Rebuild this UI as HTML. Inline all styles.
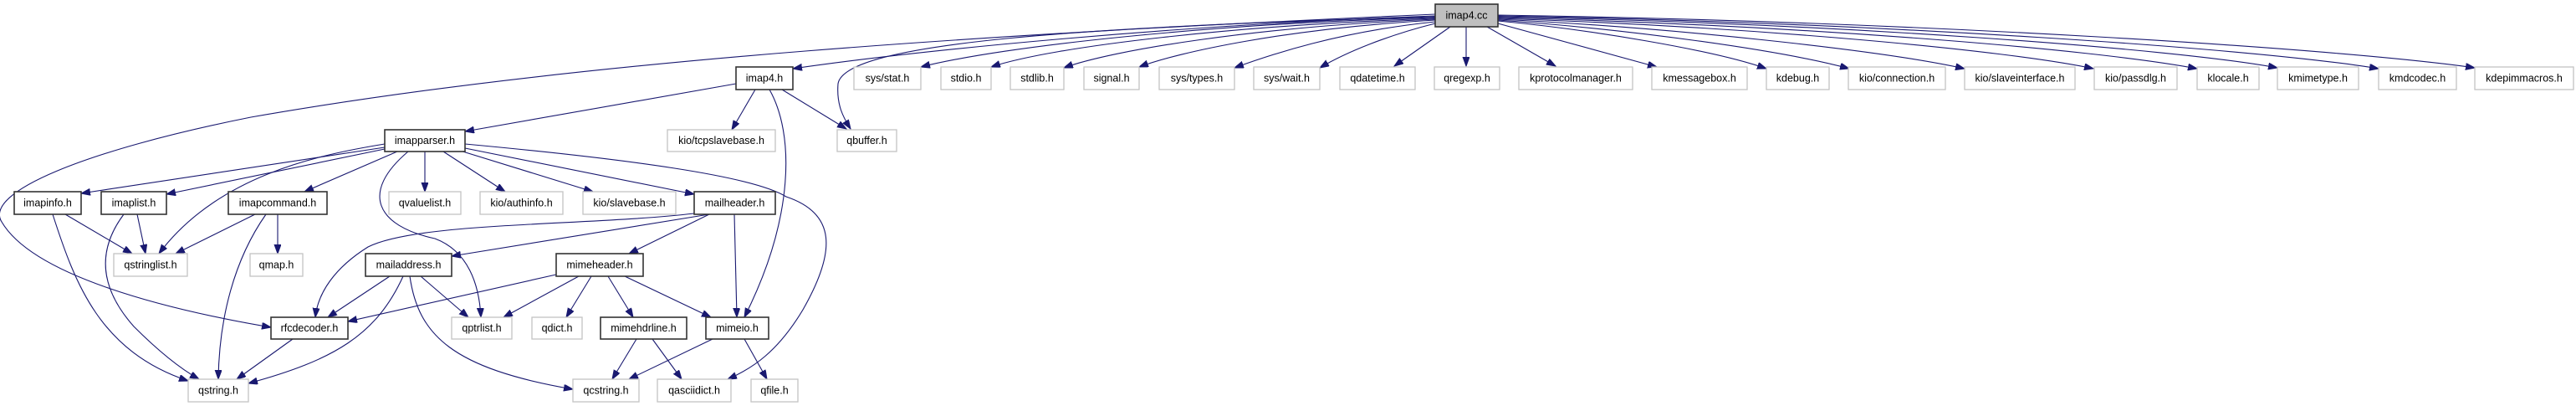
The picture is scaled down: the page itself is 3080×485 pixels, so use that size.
<!DOCTYPE html>
<html><head><meta charset="utf-8"><style>
html,body{margin:0;padding:0;background:#fff;}
svg{display:block;}
text{font-family:"Liberation Sans",Arial,sans-serif;font-size:12.5px;fill:#000;text-anchor:middle;dominant-baseline:central;}
.g{fill:#fff;stroke:#c4c4c4;stroke-width:1.3;}
.b{fill:#fff;stroke:#333;stroke-width:1.6;}
.r{fill:#bfbfbf;stroke:#333;stroke-width:1.6;}
path{fill:none;stroke:#191970;stroke-width:1.1;marker-end:url(#a);}
</style></head><body>
<svg width="3080" height="485" viewBox="0 0 3080 485" xmlns="http://www.w3.org/2000/svg">
<defs><marker id="a" markerUnits="userSpaceOnUse" markerWidth="12" markerHeight="10" refX="11" refY="4" orient="auto"><polygon points="0,0 11,4 0,8" fill="#191970" stroke="#191970"/></marker></defs>

<!-- edges from imap4.cc -->
<path d="M1716,21 C1450,28 1200,55 1101,80"/>
<path d="M1716,22 C1480,30 1260,55 1185,80"/>
<path d="M1716,23 C1500,32 1330,60 1272,81"/>
<path d="M1716,24 C1540,34 1410,62 1362,80"/>
<path d="M1716,26 C1600,38 1520,65 1476,81"/>
<path d="M1716,28 C1660,42 1610,62 1578,81"/>
<path d="M1734,32 L1667,79"/>
<path d="M1753,32 L1753,79"/>
<path d="M1778,32 L1860,79"/>
<path d="M1791,28 L1981,80"/>
<path d="M1791,25 C1900,35 2050,60 2112,82"/>
<path d="M1791,24 C1950,35 2130,60 2211,82"/>
<path d="M1791,23 C2000,33 2250,60 2349,82"/>
<path d="M1791,22 C2100,32 2400,60 2503,82"/>
<path d="M1791,21 C2150,30 2500,58 2627,82"/>
<path d="M1791,20 C2200,28 2600,58 2723,81"/>
<path d="M1791,19 C2250,27 2700,58 2844,82"/>
<path d="M1791,18 C2300,26 2800,58 2959,81"/>
<path d="M1716,19 C1400,30 1100,60 948,82"/>
<path d="M1716,20 C1300,32 1010,50 1002,100 C1000,125 1008,140 1017,154"/>
<path d="M1716,17 C1200,40 700,70 300,140 C100,180 -20,230 2,265 C40,330 200,370 324,391"/>

<!-- imap4.h -->
<path d="M880,100 L556,157"/>
<path d="M903,107 L875,155"/>
<path d="M920,107 C950,160 950,260 890,379"/>
<path d="M935,107 L1012,154"/>

<!-- imapparser.h -->
<path d="M460,176 L97,231"/>
<path d="M460,178 L199,232"/>
<path d="M460,172 C380,185 260,210 190,303"/>
<path d="M475,181 L364,229"/>
<path d="M488,181 C430,230 450,270 520,285 C560,300 573,340 575,379"/>
<path d="M508,181 L508,229"/>
<path d="M530,181 L604,229"/>
<path d="M550,180 L709,229"/>
<path d="M556,177 L830,232"/>
<path d="M556,172 C750,190 900,210 940,235 C1000,255 1000,300 960,370 C930,420 900,440 870,453"/>

<!-- level 2 -->
<path d="M78,256 L158,303"/>
<path d="M63,256 C90,340 120,420 225,455"/>
<path d="M164,256 L174,303"/>
<path d="M148,256 C115,300 120,345 160,390 C190,420 215,440 238,453"/>
<path d="M305,256 L210,303"/>
<path d="M318,256 C280,310 262,380 261,453"/>
<path d="M332,256 L332,303"/>
<path d="M830,255 C700,270 500,265 440,295 C400,320 380,350 377,379"/>
<path d="M848,256 L540,306"/>
<path d="M848,256 L752,303"/>
<path d="M878,256 L881,379"/>

<!-- level 3 -->
<path d="M466,330 L392,379"/>
<path d="M503,330 L560,379"/>
<path d="M482,330 C450,400 400,430 297,458"/>
<path d="M490,330 C500,400 540,440 685,465"/>
<path d="M665,328 L416,384"/>
<path d="M692,330 L602,379"/>
<path d="M707,330 L677,379"/>
<path d="M727,330 L757,379"/>
<path d="M747,330 L850,379"/>

<!-- level 4 -->
<path d="M350,405 L283,453"/>
<path d="M761,405 L732,453"/>
<path d="M780,405 L815,453"/>
<path d="M852,405 L752,453"/>
<path d="M890,405 L917,453"/>

<!-- nodes -->
<rect class="r" x="1716" y="5" width="75" height="27"/><text x="1753.5" y="18.5">imap4.cc</text>

<rect class="g" x="1021" y="80" width="80" height="27"/><text x="1061" y="93.5">sys/stat.h</text>
<rect class="g" x="1125" y="80" width="60" height="27"/><text x="1155" y="93.5">stdio.h</text>
<rect class="g" x="1208" y="80" width="64" height="27"/><text x="1240" y="93.5">stdlib.h</text>
<rect class="g" x="1296" y="80" width="66" height="27"/><text x="1329" y="93.5">signal.h</text>
<rect class="g" x="1386" y="80" width="90" height="27"/><text x="1431" y="93.5">sys/types.h</text>
<rect class="g" x="1499" y="80" width="79" height="27"/><text x="1538.5" y="93.5">sys/wait.h</text>
<rect class="g" x="1602" y="80" width="90" height="27"/><text x="1647" y="93.5">qdatetime.h</text>
<rect class="g" x="1715" y="80" width="78" height="27"/><text x="1754" y="93.5">qregexp.h</text>
<rect class="g" x="1816" y="80" width="136" height="27"/><text x="1884" y="93.5">kprotocolmanager.h</text>
<rect class="g" x="1975" y="80" width="114" height="27"/><text x="2032" y="93.5">kmessagebox.h</text>
<rect class="g" x="2112" y="80" width="75" height="27"/><text x="2149.5" y="93.5">kdebug.h</text>
<rect class="g" x="2210" y="80" width="116" height="27"/><text x="2268" y="93.5">kio/connection.h</text>
<rect class="g" x="2349" y="80" width="132" height="27"/><text x="2415" y="93.5">kio/slaveinterface.h</text>
<rect class="g" x="2504" y="80" width="99" height="27"/><text x="2553.5" y="93.5">kio/passdlg.h</text>
<rect class="g" x="2627" y="80" width="74" height="27"/><text x="2664" y="93.5">klocale.h</text>
<rect class="g" x="2723" y="80" width="97" height="27"/><text x="2771.5" y="93.5">kmimetype.h</text>
<rect class="g" x="2844" y="80" width="93" height="27"/><text x="2890.5" y="93.5">kmdcodec.h</text>
<rect class="g" x="2959" y="80" width="118" height="27"/><text x="3018" y="93.5">kdepimmacros.h</text>

<rect class="b" x="880" y="80" width="68" height="27"/><text x="914" y="93.5">imap4.h</text>

<rect class="b" x="460" y="155" width="96" height="26"/><text x="508" y="168">imapparser.h</text>
<rect class="g" x="798" y="155" width="129" height="26"/><text x="862.5" y="168">kio/tcpslavebase.h</text>
<rect class="g" x="1001" y="155" width="71" height="26"/><text x="1036.5" y="168">qbuffer.h</text>

<rect class="b" x="17" y="229" width="80" height="27"/><text x="57" y="242.5">imapinfo.h</text>
<rect class="b" x="121" y="229" width="78" height="27"/><text x="160" y="242.5">imaplist.h</text>
<rect class="b" x="273" y="229" width="118" height="27"/><text x="332" y="242.5">imapcommand.h</text>
<rect class="g" x="465" y="229" width="86" height="27"/><text x="508" y="242.5">qvaluelist.h</text>
<rect class="g" x="574" y="229" width="99" height="27"/><text x="623.5" y="242.5">kio/authinfo.h</text>
<rect class="g" x="697" y="229" width="111" height="27"/><text x="752.5" y="242.5">kio/slavebase.h</text>
<rect class="b" x="830" y="229" width="97" height="27"/><text x="878.5" y="242.5">mailheader.h</text>

<rect class="g" x="136" y="303" width="88" height="27"/><text x="180" y="316.5">qstringlist.h</text>
<rect class="g" x="299" y="303" width="63" height="27"/><text x="330.5" y="316.5">qmap.h</text>
<rect class="b" x="437" y="303" width="103" height="27"/><text x="488.5" y="316.5">mailaddress.h</text>
<rect class="b" x="665" y="303" width="104" height="27"/><text x="717" y="316.5">mimeheader.h</text>

<rect class="b" x="324" y="379" width="92" height="26"/><text x="370" y="392">rfcdecoder.h</text>
<rect class="g" x="540" y="379" width="72" height="26"/><text x="576" y="392">qptrlist.h</text>
<rect class="g" x="636" y="379" width="60" height="26"/><text x="666" y="392">qdict.h</text>
<rect class="b" x="718" y="379" width="103" height="26"/><text x="769.5" y="392">mimehdrline.h</text>
<rect class="b" x="844" y="379" width="75" height="26"/><text x="881.5" y="392">mimeio.h</text>

<rect class="g" x="225" y="453" width="72" height="27"/><text x="261" y="466.5">qstring.h</text>
<rect class="g" x="685" y="453" width="79" height="27"/><text x="724.5" y="466.5">qcstring.h</text>
<rect class="g" x="786" y="453" width="88" height="27"/><text x="830" y="466.5">qasciidict.h</text>
<rect class="g" x="898" y="453" width="56" height="27"/><text x="926" y="466.5">qfile.h</text>
</svg>
</body></html>
